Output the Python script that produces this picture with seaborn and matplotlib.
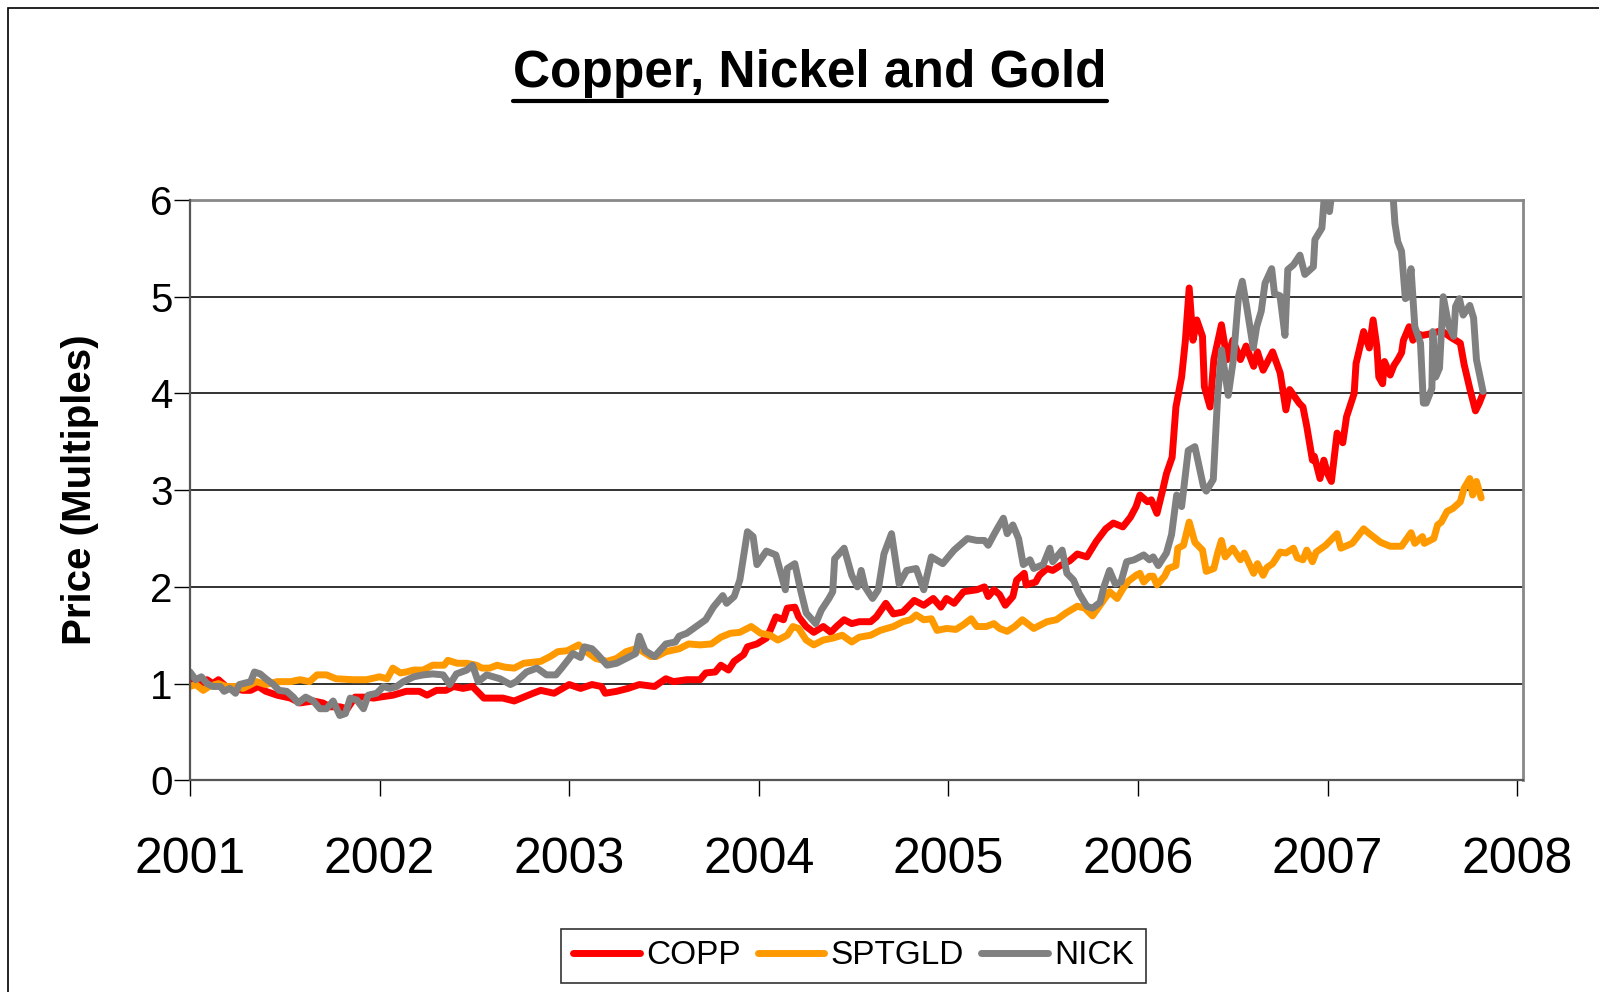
import numpy as np
import pandas as pd
import matplotlib
matplotlib.use("Agg")
import matplotlib.pyplot as plt
import seaborn as sns
from matplotlib.lines import Line2D
from matplotlib.patches import Rectangle

# ---------------- data (decimal years, price multiples) ----------------
copp_t = [2001.00, 2001.02, 2001.06, 2001.09, 2001.12, 2001.15, 2001.19, 2001.23, 2001.28, 2001.32,
          2001.36, 2001.40, 2001.46, 2001.53, 2001.58, 2001.65, 2001.70, 2001.74, 2001.79, 2001.83,
          2001.87, 2001.92, 2001.97, 2002.00, 2002.07, 2002.14, 2002.21, 2002.25, 2002.30, 2002.35,
          2002.39, 2002.44, 2002.49, 2002.55, 2002.60, 2002.65, 2002.71, 2002.76, 2002.81, 2002.85,
          2002.92, 2003.00, 2003.06, 2003.12, 2003.17, 2003.19, 2003.25, 2003.31, 2003.37, 2003.45,
          2003.51, 2003.55, 2003.62, 2003.69, 2003.72, 2003.77, 2003.80, 2003.84, 2003.87, 2003.92,
          2003.94, 2003.99, 2004.04, 2004.06, 2004.09, 2004.13, 2004.15, 2004.19, 2004.21, 2004.25,
          2004.29, 2004.34, 2004.38, 2004.41, 2004.45, 2004.49, 2004.53, 2004.59, 2004.62, 2004.67,
          2004.71, 2004.76, 2004.82, 2004.87, 2004.92, 2004.96, 2004.99, 2005.03, 2005.08, 2005.15,
          2005.19, 2005.21, 2005.24, 2005.27, 2005.30, 2005.34, 2005.36, 2005.40, 2005.41, 2005.46,
          2005.48, 2005.52, 2005.55, 2005.59, 2005.64, 2005.68, 2005.73, 2005.78, 2005.83, 2005.87,
          2005.92, 2005.96, 2005.99, 2006.01, 2006.05, 2006.07, 2006.10, 2006.13, 2006.15, 2006.18,
          2006.20, 2006.23, 2006.25, 2006.27, 2006.29, 2006.31, 2006.34, 2006.35, 2006.38, 2006.40,
          2006.44, 2006.47, 2006.50, 2006.54, 2006.57, 2006.61, 2006.63, 2006.66, 2006.71, 2006.75,
          2006.78, 2006.80, 2006.85, 2006.87, 2006.89, 2006.92, 2006.93, 2006.96, 2006.98, 2007.00,
          2007.02, 2007.05, 2007.08, 2007.10, 2007.14, 2007.15, 2007.19, 2007.22, 2007.24, 2007.26,
          2007.27, 2007.29, 2007.30, 2007.33, 2007.35, 2007.37, 2007.39, 2007.40, 2007.43, 2007.45,
          2007.47, 2007.50, 2007.55, 2007.60, 2007.65, 2007.70, 2007.72, 2007.75, 2007.78, 2007.80,
          2007.82]
copp_v = [1.00, 1.02, 0.99, 1.04, 1.00, 1.04, 0.97, 0.95, 0.93, 0.93,
          0.97, 0.92, 0.88, 0.85, 0.80, 0.82, 0.80, 0.76, 0.76, 0.74,
          0.86, 0.86, 0.85, 0.86, 0.88, 0.92, 0.92, 0.88, 0.93, 0.93,
          0.97, 0.95, 0.97, 0.85, 0.85, 0.85, 0.82, 0.86, 0.90, 0.93,
          0.90, 0.99, 0.95, 0.99, 0.97, 0.90, 0.92, 0.95, 0.99, 0.97,
          1.05, 1.02, 1.04, 1.04, 1.11, 1.12, 1.19, 1.14, 1.23, 1.30,
          1.38, 1.41, 1.47, 1.55, 1.69, 1.66, 1.78, 1.79, 1.69, 1.59,
          1.53, 1.59, 1.53, 1.59, 1.66, 1.62, 1.64, 1.64, 1.69, 1.83,
          1.72, 1.74, 1.86, 1.81, 1.88, 1.79, 1.88, 1.83, 1.95, 1.97,
          2.00, 1.90, 1.97, 1.92, 1.81, 1.90, 2.07, 2.14, 2.02, 2.05,
          2.12, 2.19, 2.17, 2.22, 2.27, 2.34, 2.31, 2.47, 2.60, 2.66,
          2.62, 2.72, 2.83, 2.95, 2.88, 2.90, 2.76, 3.00, 3.17, 3.34,
          3.86, 4.17, 4.55, 5.09, 4.55, 4.76, 4.59, 4.07, 3.86, 4.35,
          4.71, 4.35, 4.55, 4.35, 4.49, 4.28, 4.43, 4.24, 4.43, 4.21,
          3.83, 4.04, 3.90, 3.86, 3.66, 3.31, 3.35, 3.12, 3.31, 3.17,
          3.09, 3.59, 3.49, 3.76, 4.00, 4.31, 4.64, 4.47, 4.76, 4.48,
          4.17, 4.10, 4.33, 4.19, 4.29, 4.35, 4.42, 4.55, 4.69, 4.55,
          4.62, 4.60, 4.62, 4.65, 4.58, 4.52, 4.30, 4.05, 3.82, 3.90,
          4.00]

gold_t = [2001.00, 2001.03, 2001.07, 2001.10, 2001.15, 2001.19, 2001.24, 2001.28, 2001.35, 2001.40,
          2001.46, 2001.53, 2001.58, 2001.63, 2001.67, 2001.72, 2001.77, 2001.86, 2001.93, 2002.00,
          2002.04, 2002.07, 2002.11, 2002.14, 2002.18, 2002.23, 2002.28, 2002.34, 2002.36, 2002.41,
          2002.46, 2002.51, 2002.54, 2002.58, 2002.62, 2002.66, 2002.71, 2002.76, 2002.85, 2002.90,
          2002.94, 2002.99, 2003.05, 2003.09, 2003.14, 2003.20, 2003.25, 2003.30, 2003.35, 2003.38,
          2003.43, 2003.46, 2003.51, 2003.58, 2003.63, 2003.69, 2003.75, 2003.80, 2003.85, 2003.90,
          2003.96, 2004.01, 2004.06, 2004.10, 2004.15, 2004.18, 2004.21, 2004.25, 2004.29, 2004.34,
          2004.39, 2004.44, 2004.49, 2004.53, 2004.59, 2004.64, 2004.71, 2004.76, 2004.80, 2004.83,
          2004.87, 2004.91, 2004.94, 2004.99, 2005.04, 2005.08, 2005.12, 2005.15, 2005.20, 2005.24,
          2005.27, 2005.31, 2005.35, 2005.39, 2005.45, 2005.52, 2005.57, 2005.62, 2005.68, 2005.72,
          2005.76, 2005.80, 2005.85, 2005.89, 2005.92, 2005.95, 2005.99, 2006.01, 2006.03, 2006.06,
          2006.08, 2006.10, 2006.14, 2006.16, 2006.20, 2006.21, 2006.24, 2006.27, 2006.30, 2006.34,
          2006.36, 2006.40, 2006.42, 2006.44, 2006.46, 2006.50, 2006.54, 2006.56, 2006.61, 2006.63,
          2006.66, 2006.68, 2006.71, 2006.75, 2006.78, 2006.82, 2006.84, 2006.87, 2006.89, 2006.92,
          2006.94, 2006.99, 2007.05, 2007.07, 2007.13, 2007.19, 2007.22, 2007.28, 2007.33, 2007.39,
          2007.44, 2007.46, 2007.50, 2007.51, 2007.56, 2007.58, 2007.60, 2007.63, 2007.66, 2007.70,
          2007.72, 2007.75, 2007.765, 2007.785, 2007.81]
gold_v = [0.97, 0.99, 0.93, 0.97, 1.00, 0.97, 0.97, 0.95, 1.02, 0.99,
          1.02, 1.02, 1.04, 1.02, 1.09, 1.09, 1.05, 1.04, 1.04, 1.07,
          1.05, 1.16, 1.11, 1.12, 1.14, 1.14, 1.19, 1.19, 1.24, 1.21,
          1.21, 1.19, 1.16, 1.16, 1.19, 1.17, 1.16, 1.21, 1.23, 1.28,
          1.33, 1.34, 1.40, 1.33, 1.26, 1.23, 1.26, 1.33, 1.36, 1.34,
          1.28, 1.28, 1.33, 1.36, 1.41, 1.40, 1.41, 1.48, 1.52, 1.53,
          1.59, 1.52, 1.50, 1.45, 1.50, 1.59, 1.57, 1.45, 1.40, 1.45,
          1.47, 1.50, 1.43, 1.48, 1.50, 1.55, 1.59, 1.64, 1.66, 1.71,
          1.66, 1.67, 1.55, 1.57, 1.56, 1.61, 1.67, 1.59, 1.59, 1.62,
          1.57, 1.54, 1.59, 1.66, 1.57, 1.64, 1.66, 1.73, 1.80, 1.78,
          1.70, 1.81, 1.95, 1.88, 1.98, 2.06, 2.12, 2.14, 2.05, 2.11,
          2.11, 2.02, 2.11, 2.19, 2.22, 2.40, 2.43, 2.67, 2.46, 2.38,
          2.16, 2.19, 2.35, 2.48, 2.31, 2.40, 2.28, 2.35, 2.14, 2.24,
          2.12, 2.20, 2.24, 2.36, 2.35, 2.40, 2.30, 2.28, 2.38, 2.26,
          2.36, 2.43, 2.55, 2.40, 2.45, 2.60, 2.55, 2.46, 2.42, 2.42,
          2.56, 2.45, 2.52, 2.45, 2.50, 2.64, 2.67, 2.78, 2.81, 2.88,
          3.02, 3.12, 2.95, 3.09, 2.92]

nick_t = [2001.00, 2001.03, 2001.06, 2001.09, 2001.12, 2001.16, 2001.18, 2001.21, 2001.24, 2001.26,
          2001.32, 2001.34, 2001.37, 2001.40, 2001.44, 2001.47, 2001.51, 2001.545, 2001.57, 2001.61,
          2001.65, 2001.685, 2001.72, 2001.755, 2001.79, 2001.82, 2001.845, 2001.88, 2001.915, 2001.94,
          2001.985, 2002.02, 2002.055, 2002.09, 2002.125, 2002.18, 2002.23, 2002.28, 2002.335, 2002.37,
          2002.405, 2002.46, 2002.49, 2002.52, 2002.565, 2002.635, 2002.69, 2002.72, 2002.775, 2002.83,
          2002.88, 2002.93, 2002.96, 2003.02, 2003.06, 2003.08, 2003.12, 2003.15, 2003.20, 2003.25,
          2003.30, 2003.35, 2003.37, 2003.40, 2003.45, 2003.51, 2003.56, 2003.58, 2003.62, 2003.67,
          2003.72, 2003.76, 2003.81, 2003.83, 2003.87, 2003.90, 2003.94, 2003.97, 2003.99, 2004.04,
          2004.09, 2004.14, 2004.15, 2004.19, 2004.22, 2004.25, 2004.30, 2004.33, 2004.37, 2004.39,
          2004.40, 2004.45, 2004.49, 2004.52, 2004.54, 2004.56, 2004.60, 2004.63, 2004.66, 2004.70,
          2004.74, 2004.78, 2004.83, 2004.87, 2004.91, 2004.97, 2005.03, 2005.10, 2005.15, 2005.19,
          2005.21, 2005.24, 2005.26, 2005.29, 2005.31, 2005.34, 2005.37, 2005.395, 2005.43, 2005.45,
          2005.50, 2005.535, 2005.55, 2005.60, 2005.625, 2005.66, 2005.69, 2005.73, 2005.76, 2005.80,
          2005.82, 2005.85, 2005.88, 2005.91, 2005.94, 2005.98, 2006.03, 2006.06, 2006.08, 2006.107,
          2006.15, 2006.177, 2006.204, 2006.23, 2006.265, 2006.30, 2006.345, 2006.36, 2006.397, 2006.42,
          2006.441, 2006.476, 2006.503, 2006.53, 2006.55, 2006.573, 2006.608, 2006.626, 2006.65, 2006.67,
          2006.705, 2006.72, 2006.749, 2006.775, 2006.79, 2006.82, 2006.854, 2006.88, 2006.925, 2006.933,
          2006.97, 2006.985, 2007.01, 2007.03, 2007.08, 2007.13, 2007.18, 2007.23, 2007.28, 2007.32,
          2007.345, 2007.355, 2007.37, 2007.39, 2007.41, 2007.425, 2007.44, 2007.46, 2007.49, 2007.505,
          2007.52, 2007.55, 2007.555, 2007.57, 2007.59, 2007.61, 2007.64, 2007.665, 2007.675, 2007.695,
          2007.715, 2007.75, 2007.77, 2007.785, 2007.82]
nick_v = [1.12, 1.04, 1.07, 1.00, 0.97, 0.97, 0.92, 0.95, 0.90, 0.99,
          1.02, 1.12, 1.10, 1.05, 0.99, 0.93, 0.92, 0.86, 0.80, 0.86,
          0.82, 0.74, 0.74, 0.82, 0.67, 0.69, 0.85, 0.83, 0.74, 0.88,
          0.90, 0.97, 0.95, 0.97, 1.02, 1.07, 1.09, 1.10, 1.09, 0.99,
          1.10, 1.14, 1.19, 1.02, 1.09, 1.05, 0.99, 1.02, 1.12, 1.16,
          1.09, 1.09, 1.16, 1.31, 1.27, 1.38, 1.36, 1.30, 1.19, 1.21,
          1.26, 1.31, 1.49, 1.34, 1.28, 1.41, 1.43, 1.49, 1.52, 1.59,
          1.66, 1.79, 1.91, 1.83, 1.90, 2.07, 2.57, 2.52, 2.23, 2.37,
          2.33, 1.97, 2.19, 2.24, 1.97, 1.73, 1.62, 1.76, 1.88, 1.95,
          2.29, 2.40, 2.12, 2.00, 2.17, 2.00, 1.88, 1.97, 2.34, 2.55,
          2.03, 2.17, 2.19, 1.97, 2.31, 2.24, 2.38, 2.50, 2.48, 2.48,
          2.43, 2.54, 2.61, 2.71, 2.55, 2.64, 2.50, 2.23, 2.28, 2.19,
          2.23, 2.40, 2.26, 2.38, 2.14, 2.07, 1.93, 1.80, 1.78, 1.84,
          2.00, 2.17, 2.03, 2.05, 2.26, 2.28, 2.33, 2.28, 2.31, 2.22,
          2.35, 2.54, 2.95, 2.83, 3.41, 3.45, 3.04, 2.99, 3.11, 3.97,
          4.45, 3.98, 4.35, 5.00, 5.16, 4.90, 4.47, 4.69, 4.85, 5.14,
          5.29, 5.03, 5.01, 4.60, 5.28, 5.33, 5.43, 5.23, 5.31, 5.59,
          5.71, 6.10, 5.88, 6.20, 6.60, 6.90, 7.30, 7.70, 7.10, 6.40,
          6.05, 5.76, 5.57, 5.47, 4.98, 5.00, 5.29, 4.69, 4.52, 3.90,
          3.90, 4.05, 4.64, 4.17, 4.26, 5.00, 4.69, 4.59, 4.90, 4.98,
          4.81, 4.91, 4.78, 4.35, 4.02]

series_names = ["COPP", "SPTGLD", "NICK"]
series_colors = ["#FF0000", "#FF9900", "#808080"]
year_ticks = [2001, 2002, 2003, 2004, 2005, 2006, 2007, 2008]
y_ticks = [0, 1, 2, 3, 4, 5, 6]
title_text = "Copper, Nickel and Gold"
ylabel_text = "Price (Multiples)"

# ---------------- build long-form table ----------------
frames = []
for name, t, v in zip(series_names, [copp_t, gold_t, nick_t], [copp_v, gold_v, nick_v]):
    frames.append(pd.DataFrame({"year": t, "value": v, "series": name}))
df = pd.concat(frames, ignore_index=True)

sns.set_theme(style="white")
plt.rcParams["font.family"] = ["Liberation Sans", "DejaVu Sans"]
plt.rcParams["text.color"] = "black"
plt.rcParams["axes.labelcolor"] = "black"
plt.rcParams["xtick.color"] = "black"
plt.rcParams["ytick.color"] = "black"

W, H = 1599, 992
fig = plt.figure(figsize=(W / 100, H / 100), dpi=100)
ax_left, ax_right, ax_top, ax_bottom = 190, 1522.7, 200, 780.3
ax = fig.add_axes([ax_left / W, 1 - ax_bottom / H, (ax_right - ax_left) / W, (ax_bottom - ax_top) / H])

LW = 5.0
palette = dict(zip(series_names, series_colors))
sns.lineplot(data=df, x="year", y="value", hue="series", hue_order=series_names,
             palette=palette, estimator=None, linewidth=LW, ax=ax, legend=False,
             solid_joinstyle="round", solid_capstyle="round")

ax.set_xlim(2001.0, 2008.029)
ax.set_ylim(0, 6)
ax.set_xticks(year_ticks)
ax.set_xticklabels([str(y) for y in year_ticks])
ax.set_yticks(y_ticks)
ax.set_yticklabels([str(y) for y in y_ticks])
ax.set_xlabel("")
ax.set_ylabel(ylabel_text, fontsize=29, fontweight="bold", labelpad=37)

for y in [1, 2, 3, 4, 5]:
    ax.axhline(y, color="#222222", lw=1.3, zorder=0.5)

for side in ["top", "right"]:
    ax.spines[side].set_color("#888888")
    ax.spines[side].set_linewidth(2.0)
for side in ["left", "bottom"]:
    ax.spines[side].set_color("#555555")
    ax.spines[side].set_linewidth(1.6)
ax.spines["top"].set_zorder(0.4)

ax.tick_params(axis="x", direction="out", length=11.5, width=1.0, color="black",
               labelsize=36, pad=29, bottom=True, labelcolor="black")
ax.tick_params(axis="y", direction="out", length=11.5, width=1.0, color="black",
               labelsize=29, pad=1, left=True, labelcolor="black")
ax.grid(False)

# legend
handles = [Line2D([0], [0], color=c, lw=LW, solid_capstyle="round") for c in series_colors]
leg = fig.legend(handles, series_names, loc="center", bbox_to_anchor=(853.5 / W, 1 - 956 / H),
                 ncol=3, fontsize=24, frameon=True, fancybox=False, edgecolor="black",
                 handlelength=2.0, handletextpad=0.2, columnspacing=0.5, borderpad=0.35)
leg.get_frame().set_linewidth(1.2)
for txt in leg.get_texts():
    txt.set_color("black")

# title with underline
title = fig.text(810 / W, 1 - 74 / H, title_text, ha="center", va="center",
                 fontsize=37, fontweight="bold", color="black")
fig.canvas.draw()
bb = title.get_window_extent(fig.canvas.get_renderer())
uy = bb.y0 - 2
fig.add_artist(Line2D([bb.x0 / W, bb.x1 / W], [uy / H, uy / H], transform=fig.transFigure,
                      color="black", lw=3.0))

# outer chart border (left and top visible)
fig.add_artist(Rectangle((8 / W, -0.5), 2.0, 1.5 - 8 / H, transform=fig.transFigure,
                         fill=False, edgecolor="black", lw=1.2, clip_on=False))

fig.savefig("out.png", dpi=100, facecolor="white")
